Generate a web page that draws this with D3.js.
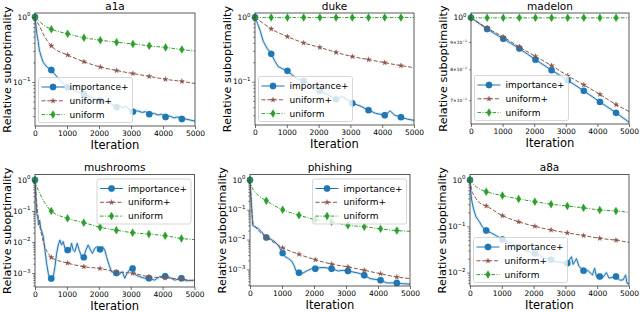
<!DOCTYPE html>
<html>
<head>
<meta charset="utf-8">
<script src="https://cdn.jsdelivr.net/npm/d3@7"></script>
<style>
  body { margin: 0; background: #fff; }
  svg { font-family: "DejaVu Sans", sans-serif; }
</style>
</head>
<body>
<svg id="chart" width="640" height="312"></svg>
<script>
// ---- data ----
const seriesNames = ["importance+", "uniform+", "uniform"];
const xTicks = [0, 1000, 2000, 3000, 4000, 5000];
const markIters = [0, 510, 1020, 1530, 2040, 2550, 3060, 3570, 4080, 4590];

// shared iteration grid for the smooth curves
const sIter = [0, 50, 150, 300, 510, 1020, 1530, 2040, 2550, 3060, 3570, 4080, 4590, 5000];

// a1a
const a1aImpIter = [0,30,60,100,135,200,260,350,430,510,600,700,800,900,1020,1150,1300,1530,1700,1900,2040,2200,2350,2450,2550,2650,2750,2850,2950,3060,3200,3350,3450,3570,3700,3850,3950,4080,4200,4350,4450,4590,4700,4850,5000];
const a1aImpVal = [1.0,0.75,0.55,0.42,0.31,0.24,0.2,0.175,0.162,0.153,0.135,0.118,0.104,0.093,0.083,0.077,0.072,0.065,0.06,0.055,0.052,0.05,0.047,0.044,0.041,0.043,0.04,0.042,0.038,0.035,0.036,0.034,0.035,0.032,0.033,0.031,0.032,0.029,0.030,0.028,0.029,0.027,0.027,0.026,0.025];
const a1aUnpVal = [1.0,0.88,0.71,0.5,0.36,0.26,0.205,0.17,0.15,0.135,0.122,0.11,0.102,0.095];
const a1aUniVal = [1.0,0.93,0.84,0.73,0.65,0.55,0.48,0.44,0.41,0.385,0.36,0.34,0.315,0.30];

// duke
const dukeImpIter = [0,80,157,262,380,510,620,734,870,1020,1160,1310,1530,1800,2040,2300,2550,2750,2900,3060,3300,3570,3800,4080,4250,4400,4590,4800,5000];
const dukeImpVal = [1.0,0.8,0.63,0.42,0.33,0.27,0.21,0.17,0.158,0.147,0.128,0.112,0.102,0.086,0.072,0.062,0.053,0.059,0.052,0.046,0.042,0.036,0.032,0.03,0.035,0.03,0.028,0.026,0.025];
const dukeUnpVal = [1.0,0.96,0.88,0.78,0.66,0.5,0.4,0.34,0.285,0.245,0.22,0.197,0.177,0.165];
const dukeUniVal = [1.0,0.995,0.99,0.99,0.99,0.99,0.99,0.99,0.99,0.99,0.99,0.99,0.99,0.99];

// madelon
const madImpVal = [1.0,0.995,0.985,0.971,0.952,0.913,0.875,0.834,0.797,0.763,0.729,0.695,0.663,0.637];
const madUnpVal = [1.0,0.996,0.987,0.973,0.956,0.92,0.881,0.846,0.813,0.778,0.748,0.718,0.687,0.667];
const madUniVal = [1.0,0.999,0.999,0.999,0.999,0.999,0.999,0.999,0.999,0.999,0.999,0.999,0.999,0.999];

// mushrooms
const mushImpIter = [0,31,52,83,115,146,177,219,260,312,365,417,469,510,573,625,677,729,781,833,885,938,1020,1094,1146,1198,1250,1323,1385,1458,1530,1594,1667,1740,1802,1875,1948,2040,2115,2188,2240,2323,2396,2550,2656,2740,2813,2885,2969,3060,3156,3281,3438,3570,3750,3906,4080,4219,4375,4590,4740,5000];
const mushImpVal = [1.0,0.23,0.084,0.066,0.035,0.051,0.028,0.021,0.015,0.0055,0.002,0.00098,0.00059,0.00067,0.00076,0.0016,0.0043,0.008,0.0116,0.008,0.0103,0.0063,0.0055,0.0049,0.0091,0.0055,0.0049,0.0091,0.0055,0.0034,0.0032,0.0055,0.008,0.0055,0.0043,0.0063,0.0071,0.0058,0.0071,0.0055,0.0034,0.0018,0.0011,0.001,0.00093,0.0011,0.00068,0.00098,0.0013,0.0014,0.00087,0.00076,0.00068,0.00068,0.00059,0.00076,0.00079,0.00073,0.00059,0.00068,0.00056,0.00059];
const mushUnpIter = [0,25,50,90,135,208,312,417,510,1020,1530,2040,2550,3060,3570,4080,4590,5000];
const mushUnpVal = [1.0,0.5,0.2,0.08,0.04,0.017,0.007,0.0043,0.0032,0.0021,0.0016,0.0014,0.0011,0.00098,0.00076,0.0007,0.00064,0.00055];
const mushUniVal = [1.0,0.65,0.37,0.19,0.1,0.058,0.042,0.03,0.024,0.02,0.018,0.016,0.013,0.012];

// phishing
const phisImpIter = [0,31,52,83,156,260,365,510,625,781,885,1020,1094,1198,1302,1375,1437,1530,1615,1770,1927,2040,2187,2344,2550,2760,2917,3060,3229,3385,3570,3750,4080,4270,4590,4740,5000];
const phisImpVal = [1.0,0.27,0.126,0.03,0.027,0.023,0.018,0.0117,0.0108,0.0083,0.0064,0.0035,0.0027,0.0023,0.0019,0.00136,0.00088,0.00077,0.00071,0.00088,0.00105,0.00105,0.00114,0.00114,0.00105,0.00088,0.00093,0.00088,0.00081,0.00075,0.00063,0.00049,0.00043,0.00035,0.00035,0.00033,0.00032];
const phisUnpIter = [0,30,60,100,200,300,510,1020,1530,2040,2550,3060,3570,4080,4590,5000];
const phisUnpVal = [1.0,0.3,0.08,0.035,0.024,0.018,0.012,0.0053,0.0032,0.0021,0.0015,0.0012,0.00093,0.00071,0.00055,0.00049];
const phisUniVal = [1.0,0.62,0.4,0.28,0.2,0.1,0.066,0.047,0.04,0.03,0.027,0.023,0.02,0.019];

// a8a
const a8aImpIter = [0,21,52,105,188,293,397,510,680,837,1020,1203,1360,1530,1726,1883,2040,2197,2354,2550,2720,3060,3190,3243,3347,3430,3570,3713,3850,3920,3975,4080,4184,4289,4372,4590,4707,4811,4895,4937,5000];
const a8aImpVal = [1.0,0.61,0.37,0.245,0.16,0.126,0.095,0.081,0.071,0.062,0.052,0.045,0.041,0.036,0.031,0.028,0.026,0.023,0.02,0.019,0.017,0.016,0.022,0.015,0.02,0.0135,0.011,0.011,0.0089,0.0124,0.0082,0.0082,0.0079,0.01,0.0076,0.0082,0.0069,0.0069,0.0089,0.0059,0.0057];
const a8aUnpVal = [1.0,0.62,0.44,0.32,0.275,0.17,0.125,0.1,0.083,0.072,0.063,0.055,0.05,0.045];
const a8aUniVal = [1.0,0.9,0.76,0.64,0.56,0.46,0.39,0.34,0.3,0.275,0.25,0.225,0.214,0.2];

// ---- layout ----
const colors = ["#1f77b4", "#8c564b", "#2ca02c"];
const dashes = [null, "4,1.8", "3.5,1.5,1,1.5"];

const panels = [
  { title: "a1a", box: [35, 13, 195, 126], exp: [-1.677, 0.0615], legend: "ll",
    series: [[a1aImpIter, a1aImpVal], [sIter, a1aUnpVal], [sIter, a1aUniVal]] },
  { title: "duke", box: [255, 13, 414, 125], exp: [-1.675, 0.067], legend: "ll",
    series: [[dukeImpIter, dukeImpVal], [sIter, dukeUnpVal], [sIter, dukeUniVal]] },
  { title: "madelon", box: [471, 13, 629, 124], exp: [-0.1994, 0.0086], legend: "ll", minorLabels: true,
    series: [[sIter, madImpVal], [sIter, madUnpVal], [sIter, madUniVal]] },
  { title: "mushrooms", box: [35, 174.5, 194.5, 287], exp: [-3.45, 0.177], legend: "ur",
    series: [[mushImpIter, mushImpVal], [mushUnpIter, mushUnpVal], [sIter, mushUniVal]] },
  { title: "phishing", box: [250, 174.5, 410, 286], exp: [-3.56, 0.185], legend: "ur",
    series: [[phisImpIter, phisImpVal], [phisUnpIter, phisUnpVal], [sIter, phisUniVal]] },
  { title: "a8a", box: [470, 174.5, 629, 286], exp: [-2.29, 0.119], legend: "ll",
    series: [[a8aImpIter, a8aImpVal], [sIter, a8aUnpVal], [sIter, a8aUniVal]] }
];

const svg = d3.select("#chart");

const markerPath = [
  d3.symbol(d3.symbolCircle, 32)(),
  d3.symbol(d3.symbolStar, 9)(),
  "M0,-4L2.4,0L0,4L-2.4,0Z"
];

function drawMarker(g, k, cx, cy) {
  g.append("path")
    .attr("d", markerPath[k])
    .attr("transform", `translate(${cx},${cy})`)
    .attr("fill", colors[k])
    .attr("stroke", colors[k])
    .attr("stroke-opacity", 0.3)
    .attr("stroke-width", 1);
}

function supLabel(sel, base, sup, fs) {
  sel.append("tspan").text(base);
  sel.append("tspan").text(sup)
    .attr("font-size", fs * 0.72)
    .attr("dy", -fs * 0.42);
}

panels.forEach((p, pi) => {
  const [L, T, R, B] = p.box;
  const g = svg.append("g");

  const x = d3.scaleLinear().domain([0, 5000]).range([L, R]);
  const y = d3.scaleLog().domain([Math.pow(10, p.exp[0]), Math.pow(10, p.exp[1])]).range([B, T]);

  const clipId = "clip" + pi;
  svg.append("clipPath").attr("id", clipId)
    .append("rect").attr("x", L).attr("y", T).attr("width", R - L).attr("height", B - T);

  const line = d3.line().x(d => x(d[0])).y(d => y(d[1]));

  // series: drawn in legend order, so "uniform" ends on top
  p.series.forEach(([it, val], k) => {
    const pts = it.map((v, i) => [v, val[i]]);
    const curve = k === 0 && p.title !== "madelon" ? d3.curveLinear : d3.curveMonotoneX;
    line.curve(curve);
    const lg = g.append("g").attr("clip-path", `url(#${clipId})`);
    if (k === 0) {
      lg.append("path").attr("d", line(pts))
        .attr("fill", "none").attr("stroke", colors[k])
        .attr("stroke-opacity", 0.2).attr("stroke-width", 2.8)
        .attr("stroke-linejoin", "round");
    }
    lg.append("path").attr("d", line(pts))
      .attr("fill", "none").attr("stroke", colors[k])
      .attr("stroke-width", 1)
      .attr("stroke-dasharray", dashes[k])
      .attr("stroke-linejoin", "round");
    pts.filter(d => markIters.includes(d[0]))
      .forEach(d => drawMarker(g, k, x(d[0]), y(d[1])));
  });

  // axes
  const xAxis = g.append("g")
    .attr("transform", `translate(0,${B})`)
    .call(d3.axisBottom(x).tickValues(xTicks).tickSize(3).tickPadding(1.5).tickFormat(d3.format("d")));
  xAxis.select(".domain").remove();
  xAxis.selectAll("line").attr("stroke", "#333").attr("stroke-width", 0.7);
  xAxis.selectAll("text").attr("font-size", 7.5).attr("fill", "#000")
    .attr("font-family", "DejaVu Sans");

  const lo = p.exp[0], hi = p.exp[1];
  const major = d3.range(Math.ceil(lo), Math.floor(hi) + 1).map(e => Math.pow(10, e));
  const minor = [];
  d3.range(Math.floor(lo), Math.ceil(hi) + 1).forEach(e => {
    for (let m = 2; m <= 9; m++) {
      const v = m * Math.pow(10, e);
      if (Math.log10(v) >= lo && Math.log10(v) <= hi) minor.push(v);
    }
  });

  const yMaj = g.append("g").attr("transform", `translate(${L},0)`)
    .call(d3.axisLeft(y).tickValues(major).tickSize(3).tickFormat(""));
  const yMin = g.append("g").attr("transform", `translate(${L},0)`)
    .call(d3.axisLeft(y).tickValues(minor).tickSize(1.8).tickFormat(""));
  [yMaj, yMin].forEach(a => {
    a.select(".domain").remove();
    a.selectAll("line").attr("stroke", "#333").attr("stroke-width", 0.6);
  });

  major.forEach(v => {
    const e = Math.round(Math.log10(v));
    const t = g.append("text")
      .attr("x", L - 4.5).attr("y", y(v)).attr("dy", "0.35em")
      .attr("text-anchor", "end").attr("font-size", 7.5).attr("fill", "#000");
    supLabel(t, "10", e < 0 ? "\u2212" + (-e) : String(e), 7.5);
  });
  if (p.minorLabels) {
    minor.forEach(v => {
      const e = Math.floor(Math.log10(v) + 1e-9);
      const m = Math.round(v / Math.pow(10, e));
      const t = g.append("text")
        .attr("x", L - 4).attr("y", y(v)).attr("dy", "0.35em")
        .attr("text-anchor", "end").attr("font-size", 4.4).attr("fill", "#000");
      supLabel(t, m + "\u00d710", e < 0 ? "\u2212" + (-e) : String(e), 4.4);
    });
  }

  // frame
  g.append("rect").attr("x", L).attr("y", T).attr("width", R - L).attr("height", B - T)
    .attr("fill", "none").attr("stroke", "#333").attr("stroke-width", 0.8);

  // labels
  g.append("text").attr("x", (L + R) / 2).attr("y", T - 3.5)
    .attr("text-anchor", "middle").attr("font-size", 10.5).attr("fill", "#000").text(p.title);
  g.append("text").attr("x", (L + R) / 2).attr("y", B + 23)
    .attr("text-anchor", "middle").attr("font-size", 11.5).attr("fill", "#000").text("Iteration");
  g.append("text")
    .attr("transform", `translate(${L - 24.5},${(T + B) / 2}) rotate(-90)`)
    .attr("text-anchor", "middle").attr("font-size", 11.3).attr("fill", "#000")
    .text("Relative suboptimality");

  // legend
  const fs = 9, rowH = 13.8, bh = 45;
  const lg = g.append("g");
  const frame = lg.append("rect");
  const texts = seriesNames.map((n, k) => lg.append("text")
    .attr("font-size", fs).attr("fill", "#000").attr("dy", "0.35em").text(n));
  const tw = d3.max(texts, t => t.node().getComputedTextLength());
  const bw = 31 + tw + 4;
  const bx = p.legend === "ll" ? L + 3.5 : R - 3.5 - bw;
  const by = p.legend === "ll" ? B - 3.5 - bh : T + 4.5;
  frame.attr("x", bx).attr("y", by).attr("width", bw).attr("height", bh)
    .attr("rx", 2).attr("fill", "#fff").attr("fill-opacity", 0.8)
    .attr("stroke", "#ccc").attr("stroke-width", 0.8);
  seriesNames.forEach((n, k) => {
    const cy = by + 9.5 + k * rowH;
    lg.append("line").attr("x1", bx + 3).attr("x2", bx + 26).attr("y1", cy).attr("y2", cy)
      .attr("stroke", colors[k]).attr("stroke-width", 1)
      .attr("stroke-dasharray", dashes[k]);
    drawMarker(lg, k, bx + 14.5, cy);
    texts[k].attr("x", bx + 31).attr("y", cy).raise();
  });
});
</script>
</body>
</html>
